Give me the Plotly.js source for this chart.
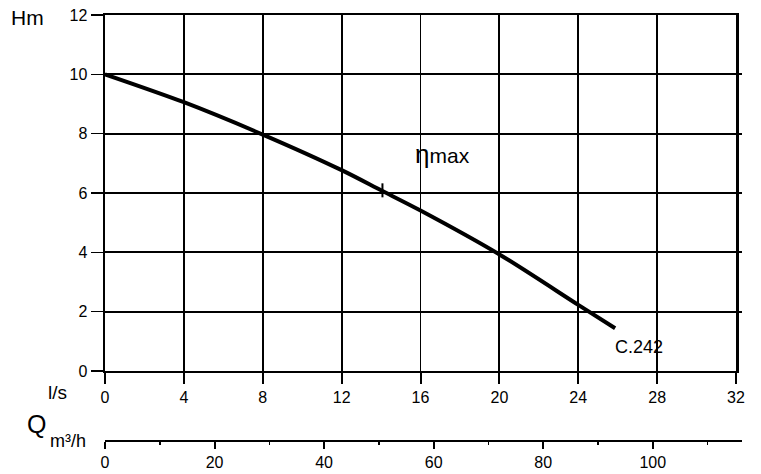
<!DOCTYPE html>
<html>
<head>
<meta charset="utf-8">
<script src="https://cdn.plot.ly/plotly-3.0.1.min.js"></script>
<style>html,body{margin:0;padding:0;background:#fff}#chart{width:761px;height:474px}</style>
</head>
<body>
<div id="chart"></div>
<script>
// Data
var flowLs = [0, 4, 8, 12, 14, 16, 20, 24, 25.87];
var headM  = [10, 9.06, 7.97, 6.77, 6.09, 5.41, 3.93, 2.23, 1.44];
var etaMaxFlow = [14.07];
var etaMaxHead = [6.09];
var curveName = "C.242";
var xTicks = [0, 4, 8, 12, 16, 20, 24, 28, 32];
var yTicks = [0, 2, 4, 6, 8, 10, 12];
var m3hTicks = [0, 20, 40, 60, 80, 100];

var font = "Liberation Sans, Arial, sans-serif";

var traces = [
  {x: [0], y: [0], xaxis: "x2", yaxis: "y", mode: "markers", marker: {opacity: 0},
   hoverinfo: "skip", showlegend: false},
  {x: flowLs, y: headM, xaxis: "x", yaxis: "y", mode: "lines",
   line: {color: "#000", width: 4, shape: "spline", smoothing: 0.8},
   hoverinfo: "skip", showlegend: false},
  {x: etaMaxFlow, y: etaMaxHead, xaxis: "x", yaxis: "y", mode: "markers",
   marker: {symbol: "line-ns-open", size: 10, color: "#000", line: {color: "#000", width: 2}},
   hoverinfo: "skip", showlegend: false}
];

var layout = {
  width: 761, height: 474,
  margin: {l: 105, r: 19, t: 15, b: 33},
  paper_bgcolor: "#fff", plot_bgcolor: "rgba(0,0,0,0)",
  font: {family: font, color: "#000", size: 16},
  showlegend: false,
  xaxis: {
    domain: [0, 0.9906], range: [0, 32], anchor: "y",
    tickvals: xTicks, ticktext: xTicks.map(String),
    showgrid: true, gridcolor: "#000", gridwidth: 1.8,
    showline: true, linecolor: "#000", linewidth: 2, mirror: true,
    ticks: "outside", ticklen: 11, tickwidth: 2, tickcolor: "#000",
    zeroline: false, fixedrange: true,
    tickfont: {size: 16, family: font}
  },
  yaxis: {
    domain: [0.1643, 1], range: [0, 12], anchor: "x",
    tickvals: yTicks, ticktext: yTicks.map(String),
    showgrid: true, gridcolor: "#000", gridwidth: 1.8,
    showline: true, linecolor: "#000", linewidth: 2.5, mirror: true,
    ticks: "outside", ticklen: 12, tickwidth: 1.5, tickcolor: "#000",
    zeroline: false, fixedrange: true,
    tickfont: {size: 16, family: font}
  },
  xaxis2: {
    domain: [0, 1], range: [0, 116.3], anchor: "free", position: 0,
    tickvals: m3hTicks, ticktext: m3hTicks.map(String),
    showgrid: false, zeroline: false,
    showline: true, linecolor: "#000", linewidth: 2,
    ticks: "outside", ticklen: 7, tickwidth: 2, tickcolor: "#000",
    minor: {dtick: 10, tick0: 0, ticks: "outside", ticklen: 3, tickwidth: 1.5, tickcolor: "#000", showgrid: false},
    fixedrange: true,
    tickfont: {size: 16, family: font}
  },
  annotations: [
    {xref: "paper", yref: "paper", x: -0.121, y: 0.995, xanchor: "center", yanchor: "middle",
     text: "Hm", showarrow: false, font: {size: 21, family: font}},
    {xref: "paper", yref: "paper", x: -0.075, y: 0.115, xanchor: "center", yanchor: "middle",
     text: "l/s", showarrow: false, font: {size: 19, family: font}},
    {xref: "paper", yref: "paper", x: -0.107, y: 0.04, xanchor: "center", yanchor: "middle",
     text: "Q", showarrow: false, font: {size: 25, family: font}},
    {xref: "paper", yref: "paper", x: -0.058, y: 0.0, xanchor: "center", yanchor: "middle",
     text: "m³/h", showarrow: false, font: {size: 18, family: font}},
    {xref: "x", yref: "y", x: 15.6, y: 7.3, xanchor: "left", yanchor: "middle",
     text: "<span style='font-size:26px'>η</span>max", showarrow: false, font: {size: 21, family: font}},
    {xref: "x", yref: "y", x: 25.75, y: 0.8, xanchor: "left", yanchor: "middle",
     text: curveName, showarrow: false, font: {size: 18, family: font}}
  ]
};

Plotly.newPlot("chart", traces, layout, {displayModeBar: false, staticPlot: true});
</script>
</body>
</html>
